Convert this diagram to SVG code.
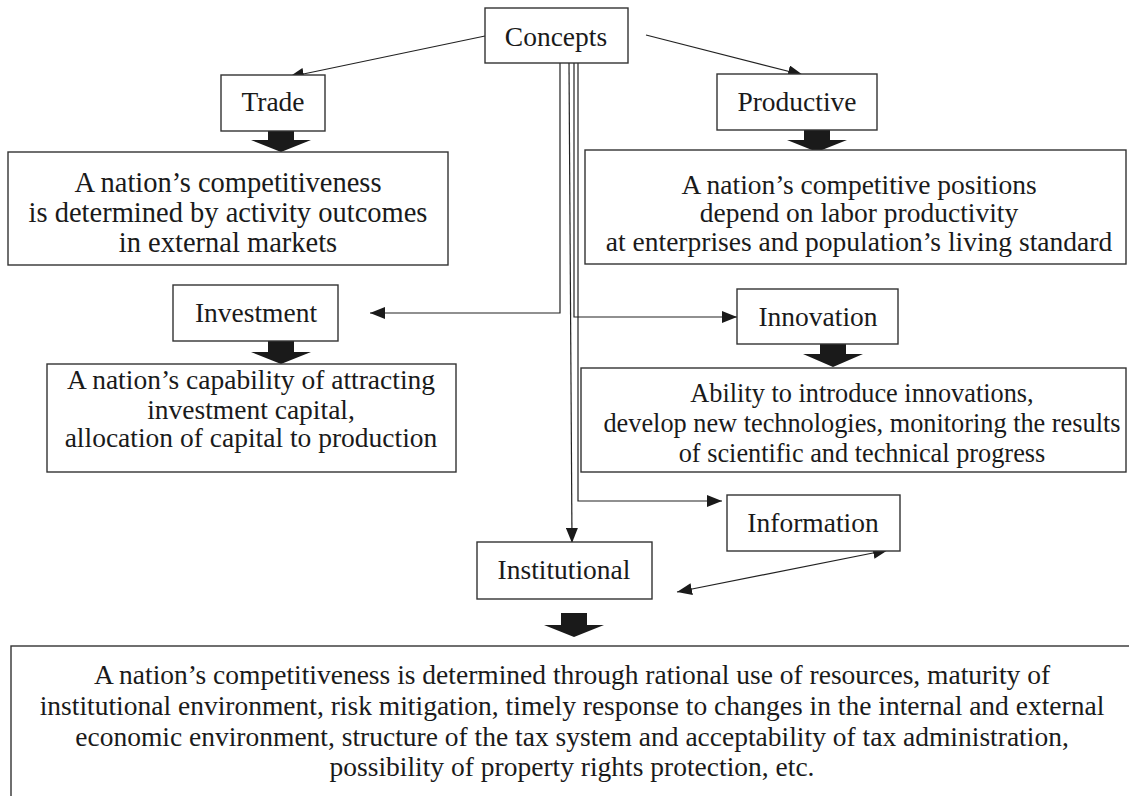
<svg xmlns="http://www.w3.org/2000/svg" width="1129" height="796" viewBox="0 0 1129 796">
<style>
.box{fill:#fff;stroke:#333;stroke-width:1.4}
.t{font-family:"Liberation Serif","Times New Roman",serif;font-size:27.5px;fill:#1a1a1a;text-anchor:middle}
.big{font-size:28.5px}
.sm{font-size:26.3px}
.c{fill:none;stroke:#222;stroke-width:1.2}
.blk{fill:#1a1a1a}
</style>
<defs>
<marker id="ah" markerUnits="userSpaceOnUse" markerWidth="15" markerHeight="12" refX="15" refY="6" orient="auto-start-reverse">
<path d="M0,0 L15,6 L0,12 z" fill="#1a1a1a"/>
</marker>
</defs>
<rect width="1129" height="796" fill="#fff"/>

<g id="connectors">
<line class="c" x1="485" y1="36" x2="289" y2="77" marker-end="url(#ah)"/>
<line class="c" x1="646" y1="35" x2="803" y2="75" marker-end="url(#ah)"/>
<polyline class="c" points="560,63 560,313 370,313" marker-end="url(#ah)"/>
<line class="c" x1="569" y1="63" x2="572" y2="543" marker-end="url(#ah)"/>
<polyline class="c" points="574,63 574,317 737,317" marker-end="url(#ah)"/>
<polyline class="c" points="578,63 578,501 722,501" marker-end="url(#ah)"/>
<line class="c" x1="677" y1="592" x2="888" y2="550" marker-start="url(#ah)" marker-end="url(#ah)"/>
<polygon class="blk" points="268,131 294,131 294,140 311,140 281,152 251,140 268,140"/>
<polygon class="blk" points="804,130 830,130 830,140 847,140 817,152 787,140 804,140"/>
<polygon class="blk" points="268,341 294,341 294,352 311,352 281,364 251,352 268,352"/>
<polygon class="blk" points="820,344 846,344 846,354 863,354 833,367 803,354 820,354"/>
<polygon class="blk" points="561,613 587,613 587,625 604,625 574,637 544,625 561,625"/>
</g>

<g id="concepts">
<rect class="box" x="485" y="8" width="143" height="55"/>
<text class="t" x="556" y="46">Concepts</text>
</g>
<g id="trade">
<rect class="box" x="221" y="75" width="104" height="56"/>
<text class="t" x="273" y="111">Trade</text>
</g>
<g id="productive">
<rect class="box" x="717" y="74" width="160" height="56"/>
<text class="t" x="797" y="111">Productive</text>
</g>
<g id="trade-desc">
<rect class="box" x="8" y="152" width="440" height="113"/>
<text class="t big" x="228" y="192">A nation’s competitiveness</text>
<text class="t big" x="228" y="222">is determined by activity outcomes</text>
<text class="t big" x="228" y="252">in external markets</text>
</g>
<g id="productive-desc">
<rect class="box" x="585" y="150" width="541" height="114"/>
<text class="t" x="859" y="194">A nation’s competitive positions</text>
<text class="t" x="859" y="222">depend on labor productivity</text>
<text class="t" x="859" y="251">at enterprises and population’s living standard</text>
</g>
<g id="investment">
<rect class="box" x="173" y="285" width="165" height="56"/>
<text class="t" x="256" y="322">Investment</text>
</g>
<g id="innovation">
<rect class="box" x="737" y="289" width="161" height="55"/>
<text class="t" x="818" y="326">Innovation</text>
</g>
<g id="investment-desc">
<rect class="box" x="47" y="364" width="409" height="108"/>
<text class="t" x="251" y="389">A nation’s capability of attracting</text>
<text class="t" x="251" y="419">investment capital,</text>
<text class="t" x="251" y="447">allocation of capital to production</text>
</g>
<g id="innovation-desc">
<rect class="box" x="581" y="368" width="545" height="104"/>
<text class="t sm" x="862" y="402">Ability to introduce innovations,</text>
<text class="t sm" x="862" y="432">develop new technologies, monitoring the results</text>
<text class="t sm" x="862" y="462">of scientific and technical progress</text>
</g>
<g id="information">
<rect class="box" x="727" y="495" width="173" height="56"/>
<text class="t" x="813" y="532">Information</text>
</g>
<g id="institutional">
<rect class="box" x="477" y="542" width="175" height="57"/>
<text class="t" x="564" y="579">Institutional</text>
</g>
<g id="institutional-desc">
<rect class="box" x="11" y="646" width="1130" height="170"/>
<text class="t" x="572" y="684">A nation’s competitiveness is determined through rational use of resources, maturity of</text>
<text class="t" x="572" y="715">institutional environment, risk mitigation, timely response to changes in the internal and external</text>
<text class="t" x="572" y="746">economic environment, structure of the tax system and acceptability of tax administration,</text>
<text class="t" x="572" y="776">possibility of property rights protection, etc.</text>
</g>
</svg>
